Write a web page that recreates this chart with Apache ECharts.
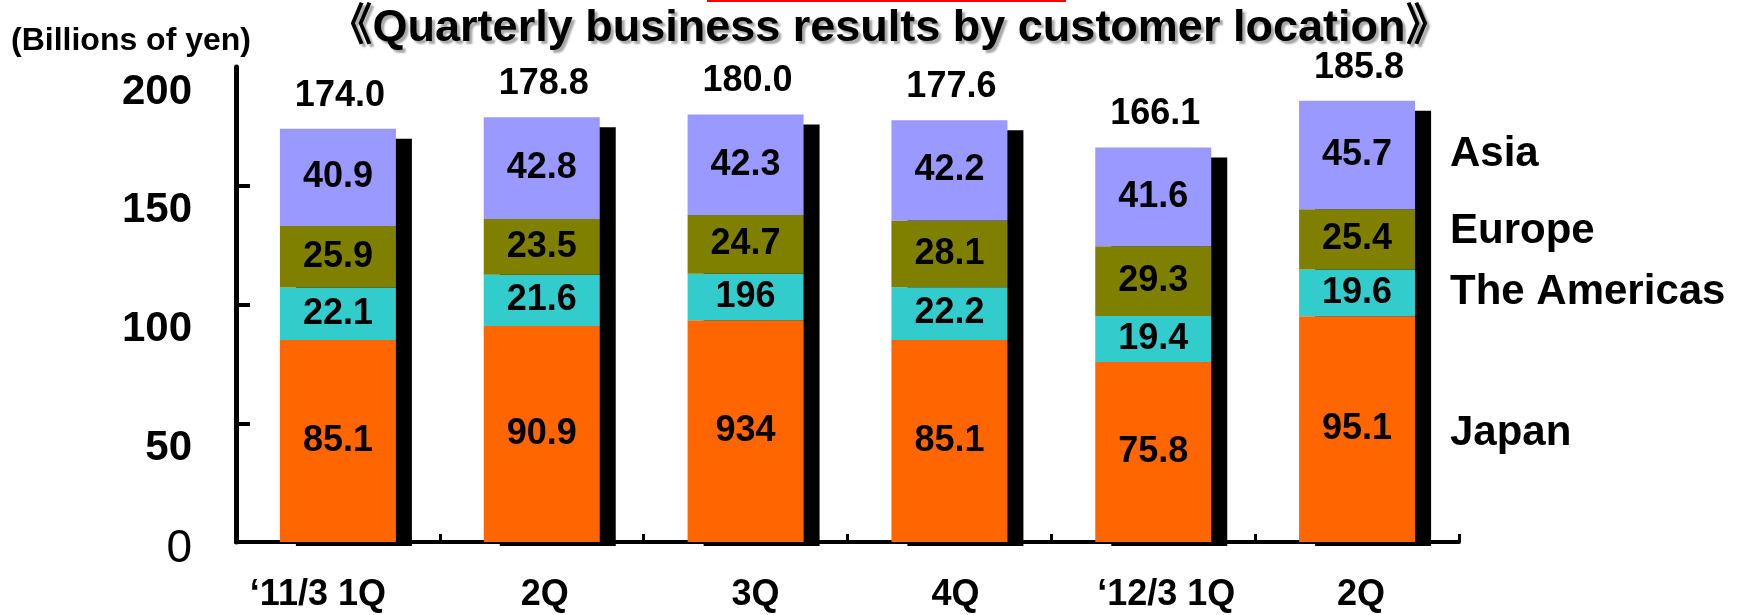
<!DOCTYPE html>
<html>
<head>
<meta charset="utf-8">
<script src="https://cdn.jsdelivr.net/npm/echarts@6/dist/echarts.min.js"></script>
<style>
html,body{margin:0;padding:0;background:#fff;}
#chart{width:1742px;height:615px;}
</style>
</head>
<body>
<div id="chart"></div>
<script>
const categories = ['\u201811/3 1Q', '2Q', '3Q', '4Q', '\u201812/3 1Q', '2Q'];
const japan    = [85.1, 90.9, 93.4, 85.1, 75.8, 95.1];
const americas = [22.1, 21.6, 19.6, 22.2, 19.4, 19.6];
const europe   = [25.9, 23.5, 24.7, 28.1, 29.3, 25.4];
const asia     = [40.9, 42.8, 42.3, 42.2, 41.6, 45.7];
const totals   = [174.0, 178.8, 180.0, 177.6, 166.1, 185.8];
// label texts as printed in the source (two printed without decimal point)
const japanText    = ['85.1', '90.9', '934', '85.1', '75.8', '95.1'];
const americasText = ['22.1', '21.6', '196', '22.2', '19.4', '19.6'];
const yTicks = [0, 50, 100, 150, 200];
const regionNames = ['Asia', 'Europe', 'The Americas', 'Japan'];

const FONT = '"Liberation Sans", Arial, "Noto Sans CJK JP", sans-serif';
const chart = echarts.init(document.getElementById('chart'));

const BAR_W = 116;
const LABEL_SIZE = 36;
// horizontal nudges of category labels (layout only)
const xLabelShift = [-20, 3, 10, 6, 13, 4];

function segLabel(texts) {
  return {
    show: true, position: 'inside', color: '#000', fontFamily: FONT,
    fontWeight: 'bold', fontSize: LABEL_SIZE,
    formatter: texts ? (p => texts[p.dataIndex]) : (p => p.value.toFixed(1))
  };
}

const xData = categories.map((c, i) => {
  const d = xLabelShift[i];
  return { value: c, textStyle: { padding: d >= 0 ? [0, 0, 0, 2 * d] : [0, -2 * d, 0, 0] } };
});

const option = {
  animation: false,
  backgroundColor: '#fff',
  textStyle: { fontFamily: FONT },
  grid: { left: 236, right: 283, top: 67, bottom: 61, containLabel: false },
  xAxis: {
    type: 'category',
    data: xData,
    boundaryGap: true,
    axisLine: { show: true, lineStyle: { color: '#000', width: 4 } },
    axisTick: { show: true, inside: true, length: 8, lineStyle: { color: '#000', width: 3 } },
    axisLabel: { color: '#000', fontFamily: FONT, fontWeight: 'bold', fontSize: 36, lineHeight: 40, margin: 33, interval: 0 }
  },
  yAxis: {
    type: 'value', min: 0, max: 200, interval: 50,
    splitLine: { show: false },
    axisLine: { show: true, lineStyle: { color: '#000', width: 5 } },
    axisTick: { show: true, inside: true, length: 14, customValues: [50, 100, 150], lineStyle: { color: '#000', width: 4 } },
    axisLabel: {
      customValues: yTicks,
      margin: 44, verticalAlign: 'top',
      formatter: v => v === 0 ? '{z|0}' : '{b|' + v + '}',
      rich: {
        b: { fontFamily: FONT, fontWeight: 'bold', fontSize: 42, lineHeight: 50, color: '#000' },
        z: { fontFamily: FONT, fontWeight: 'normal', fontSize: 46, lineHeight: 14, color: '#000' }
      }
    }
  },
  series: [
    {
      type: 'custom', name: 'total', z: 1,
      data: totals.map((t, i) => [i, t]),
      renderItem: function (params, api) {
        const top = api.coord([api.value(0), api.value(1)]);
        const base = api.coord([api.value(0), 0]);
        return {
          type: 'group',
          children: [
            { type: 'rect', shape: { x: top[0] - BAR_W / 2 + 16, y: top[1] + 10, width: BAR_W, height: base[1] - top[1] - 6 }, style: { fill: '#000' } },
            { type: 'text', style: { text: api.value(1).toFixed(1), x: top[0] + 2, y: top[1] - 33, align: 'center', verticalAlign: 'middle', font: 'bold ' + LABEL_SIZE + 'px ' + FONT, fill: '#000' } }
          ]
        };
      }
    },
    { type: 'bar', name: 'Japan', stack: 's', z: 3, barWidth: BAR_W, data: japan, itemStyle: { color: '#FF6600' }, label: segLabel(japanText) },
    { type: 'bar', name: 'The Americas', stack: 's', z: 3, barWidth: BAR_W, data: americas, itemStyle: { color: '#33CCCC' }, label: segLabel(americasText) },
    { type: 'bar', name: 'Europe', stack: 's', z: 3, barWidth: BAR_W, data: europe, itemStyle: { color: '#808000' }, label: segLabel(null) },
    { type: 'bar', name: 'Asia', stack: 's', z: 3, barWidth: BAR_W, data: asia, itemStyle: { color: '#9999FF' }, label: segLabel(null) }
  ],
  graphic: [
    { type: 'rect', left: 707, top: 0, shape: { width: 359, height: 2 }, style: { fill: '#FF0000' } },
    { type: 'text', x: 11, y: 41, style: { text: '(Billions of yen)', font: 'bold 32px ' + FONT, fill: '#000', verticalAlign: 'middle' } },
    { type: 'text', x: 889, y: 29, style: {
        text: '\u300AQuarterly business results by customer location\u300B', font: 'bold 45px ' + FONT, fill: '#000',
        align: 'center', verticalAlign: 'middle',
        textShadowColor: 'rgba(0,0,0,0.35)', textShadowOffsetX: 3, textShadowOffsetY: 3, textShadowBlur: 2 } },
    { type: 'text', x: 1450, y: 154, style: { text: regionNames[0], font: 'bold 42px ' + FONT, fill: '#000', verticalAlign: 'middle' } },
    { type: 'text', x: 1450, y: 231, style: { text: regionNames[1], font: 'bold 42px ' + FONT, fill: '#000', verticalAlign: 'middle' } },
    { type: 'text', x: 1450, y: 292, style: { text: regionNames[2], font: 'bold 42px ' + FONT, fill: '#000', verticalAlign: 'middle' } },
    { type: 'text', x: 1450, y: 433, style: { text: regionNames[3], font: 'bold 42px ' + FONT, fill: '#000', verticalAlign: 'middle' } }
  ]
};
chart.setOption(option);
</script>
</body>
</html>
